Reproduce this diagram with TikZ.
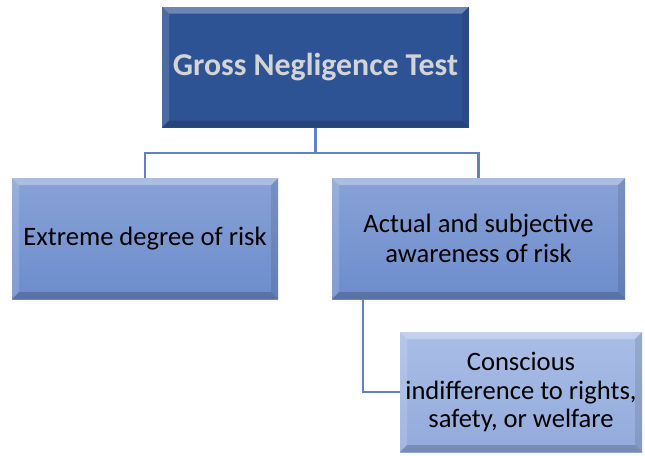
\documentclass[tikz,border=0pt]{standalone}
\usepackage{fontspec}
\setmainfont{Carlito}
\usetikzlibrary{calc}
\definecolor{topfill}{RGB}{46,83,149}
\definecolor{toptext}{RGB}{212,212,212}
\definecolor{midtop}{RGB}{136,162,214}
\definecolor{midbot}{RGB}{108,140,204}
\definecolor{lowtop}{RGB}{170,190,230}
\definecolor{lowbot}{RGB}{146,170,220}
\definecolor{linkcol}{RGB}{98,128,196}
\tikzset{
  bevel/.style={path picture={
    \coordinate (bnw) at (path picture bounding box.north west);
    \coordinate (bne) at (path picture bounding box.north east);
    \coordinate (bsw) at (path picture bounding box.south west);
    \coordinate (bse) at (path picture bounding box.south east);
    \fill[white,opacity=0.30] (bnw) -- (bne) -- ([shift={(-#1,-#1)}]bne) -- ([shift={(#1,-#1)}]bnw) -- cycle;
    \fill[white,opacity=0.15] (bnw) -- (bsw) -- ([shift={(#1,#1)}]bsw) -- ([shift={(#1,-#1)}]bnw) -- cycle;
    \fill[black,opacity=0.18] (bsw) -- (bse) -- ([shift={(-#1,#1)}]bse) -- ([shift={(#1,#1)}]bsw) -- cycle;
    \fill[black,opacity=0.10] (bne) -- (bse) -- ([shift={(-#1,#1)}]bse) -- ([shift={(-#1,-#1)}]bne) -- cycle;
  }},
  topbox/.style={rectangle, inner sep=0pt, fill=topfill, text=toptext,
    font=\fontsize{31.8}{36}\selectfont\bfseries, bevel=7pt, align=center},
  midbox/.style={rectangle, inner sep=0pt, top color=midtop, bottom color=midbot,
    text=black, font=\fontsize{26.6}{29.5}\selectfont, bevel=7pt, align=center},
  lowbox/.style={rectangle, inner sep=0pt, top color=lowtop, bottom color=lowbot,
    text=black, font=\fontsize{26.6}{28.5}\selectfont, bevel=7pt, align=center},
  link/.style={draw=linkcol, line width=2.2pt}
}
\begin{document}
\begin{tikzpicture}[x=1pt,y=-1pt]
\useasboundingbox[fill=white] (0,0) rectangle (645,455);
\node[topbox, minimum width=307pt, minimum height=121pt] (top) at (315.5,67) {Gross Negligence Test};
\node[midbox, minimum width=266pt, minimum height=121pt] (left) at (145,238.5) {Extreme degree of risk};
\node[midbox, minimum width=293pt, minimum height=121pt] (right) at (478.5,238.5) {Actual and subjective\\awareness of risk};
\node[lowbox, minimum width=242pt, minimum height=120pt] (low) at (521,392) {Conscious\\indifference to rights,\\safety, or welfare};
\coordinate (bus) at (315.5,153);
\draw[link] (top.south) -- (bus);
\draw[link] (bus) -| (left.north);
\draw[link] (bus) -| (right.north);
\draw[link] ([xshift=31pt]right.south west) |- (low.west);
\end{tikzpicture}
\end{document}
